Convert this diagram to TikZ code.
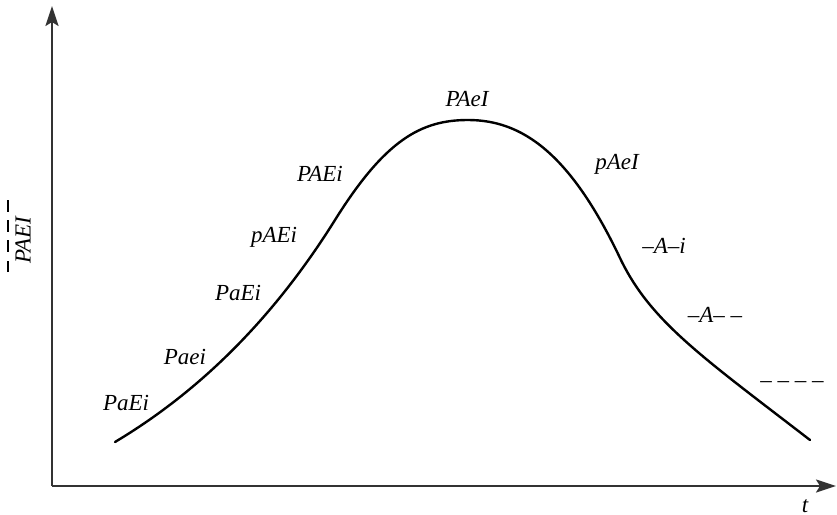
\documentclass[tikz,border=0pt]{standalone}
\usepackage{fontspec}
\setmainfont{Liberation Serif}
\usetikzlibrary{arrows.meta}

\begin{document}
\begin{tikzpicture}[
  x=0.5pt, y=-0.5pt,
  lbl/.style={font=\fontsize{11.5}{13}\selectfont\itshape, inner sep=1pt},
  axis/.style={line width=1.1pt, black!80, -{Stealth[length=10pt, width=6.5pt, inset=2pt]}},
  curve/.style={line width=1.2pt, line cap=round}
]
\useasboundingbox (0,0) rectangle (837,515);
% axes
\coordinate (o) at (52,486);
\coordinate (ytop) at (52,6);
\coordinate (xend) at (836,486);
\draw[axis] (o) -- (ytop);
\draw[axis] (o) -- (xend);
\node[lbl] (tlbl) at (805,506) {t};
\node[lbl, rotate=90] (ylbl) at (23,240) {PAEI};
\coordinate (dtop) at (8,200);
\coordinate (dbot) at (8,272);
\draw[line width=0.55pt, dash pattern=on 5.75pt off 4.3pt] (dbot) -- (dtop);
% life cycle curve
\coordinate (c0) at (115,442);
\coordinate (c1) at (335,220);
\coordinate (c2) at (468,120);
\coordinate (c3) at (620,258);
\coordinate (c4) at (810,440);
\draw[curve] (c0) .. controls (202,390) and (275,316) .. (c1)
  .. controls (385,140) and (421,120) .. (c2)
  .. controls (522,120) and (570,153) .. (c3)
  .. controls (650,321) and (701,356) .. (c4);
% stages
\node[lbl] (s1) at (126,403) {PaEi};
\node[lbl] (s2) at (185,357) {Paei};
\node[lbl] (s3) at (238,293) {PaEi};
\node[lbl] (s4) at (274,237) {pAEi};
\node[lbl] (s5) at (320,174) {PAEi};
\node[lbl] (s6) at (467,99) {PAeI};
\node[lbl] (s7) at (617,164) {pAeI};
\node[lbl] (s8) at (664,246) {–A–i};
\node[lbl] (s9) at (715,315) {–A– –};
\node[lbl] (s10) at (792,385) {– – – –};
\end{tikzpicture}
\end{document}
